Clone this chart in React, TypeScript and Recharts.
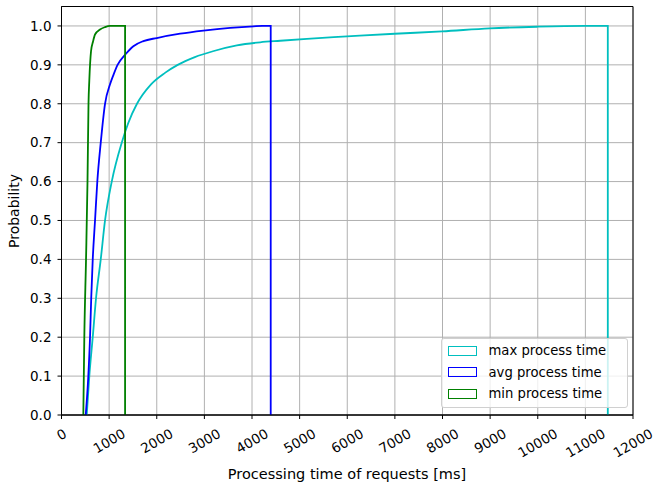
import { LineChart, Line, XAxis, YAxis, CartesianGrid, ReferenceArea, Label } from "recharts";

// cumulative request-time distributions (step outline, closing drop at the last bin edge)
const maxTimes = [530, 584, 656, 725, 824, 914, 1055, 1265, 1400, 1585, 1880, 2180, 2440, 2800, 3180, 3682, 4172, 4592, 5153, 5994, 6995, 7991, 8991, 9987, 10982, 11471, 11471];
const maxProb = [0, 0.1, 0.2, 0.3, 0.4, 0.5, 0.6, 0.7, 0.75, 0.8, 0.85, 0.88, 0.9, 0.92, 0.935, 0.95, 0.958, 0.962, 0.967, 0.973, 0.98, 0.986, 0.994, 0.998, 1.0, 1.0, 0];

const avgTimes = [509, 563, 599, 624, 656, 704, 752, 824, 914, 1019, 1093, 1177, 1335, 1509, 1719, 2001, 2491, 2980, 3541, 4031, 4214, 4393, 4393];
const avgProb = [0, 0.1, 0.2, 0.3, 0.4, 0.5, 0.6, 0.7, 0.8, 0.85, 0.875, 0.9, 0.926, 0.948, 0.961, 0.969, 0.98, 0.988, 0.995, 0.999, 1.0, 1.0, 0];

const minTimes = [458, 479, 515, 546, 567, 584, 620, 662, 704, 809, 914, 1019, 1335, 1335];
const minProb = [0, 0.2, 0.4, 0.6, 0.8, 0.86, 0.935, 0.96, 0.978, 0.991, 0.997, 1.0, 1.0, 0];

const xTicks = [0, 1000, 2000, 3000, 4000, 5000, 6000, 7000, 8000, 9000, 10000, 11000, 12000];
const yTicks = [0, 0.1, 0.2, 0.3, 0.4, 0.5, 0.6, 0.7, 0.8, 0.9, 1.0];

const seriesNames = ["max process time", "avg process time", "min process time"];
const seriesColors = ["#00bfbf", "#0000ff", "#008000"];

const toPoints = (times: number[], probs: number[]) =>
  times.map((t, i) => ({ t, p: probs[i] }));

const series = [
  toPoints(maxTimes, maxProb),
  toPoints(avgTimes, avgProb),
  toPoints(minTimes, minProb),
];

const FONT = "DejaVu Sans, sans-serif";
const FS = 13.5;

// rotated tick label, bounding box centred under the tick
const XTick = (props: any) => {
  const { x, y, payload } = props;
  const label = String(payload.value);
  const w = label.length * 0.636 * FS;
  const cy = y + (w * 0.5 + 0.73 * FS * 0.866) / 2;
  return (
    <text
      x={x}
      y={cy + 0.365 * FS}
      textAnchor="middle"
      transform={`rotate(-30 ${x} ${cy})`}
      fontSize={FS}
      fontFamily={FONT}
      fill="#000"
    >
      {label}
    </text>
  );
};

const Legendbox = () => (
  <div
    style={{
      position: "absolute",
      left: 440.5,
      top: 338,
      width: 185,
      height: 68,
      border: "1px solid #d0d0d0",
      borderRadius: 3,
      background: "rgba(255,255,255,0.8)",
      fontFamily: FONT,
      fontSize: 13.2,
    }}
  >
    {seriesNames.map((name, i) => (
      <div
        key={name}
        style={{
          position: "absolute",
          left: 0,
          top: 11.5 + i * 21.5 - 9,
          height: 18,
          display: "flex",
          alignItems: "center",
          whiteSpace: "nowrap",
        }}
      >
        <div
          style={{
            marginLeft: 6,
            width: 27,
            height: 8,
            border: `1.5px solid ${seriesColors[i]}`,
          }}
        />
        <span style={{ marginLeft: 12 }}>{name}</span>
      </div>
    ))}
  </div>
);

export default function App() {
  return (
    <div style={{ position: "absolute", left: 0, top: 0, width: 656, height: 488, background: "#fff" }}>
      <LineChart
        width={656}
        height={488}
        margin={{ top: 6.5, right: 23, bottom: 0, left: 0 }}
      >
        <CartesianGrid stroke="#b0b0b0" strokeWidth={1} />
        <XAxis
          dataKey="t"
          type="number"
          domain={[0, 12000]}
          ticks={xTicks}
          interval={0}
          height={73}
          tickSize={4}
          tickMargin={9}
          tick={<XTick />}
          axisLine={{ stroke: "#000" }}
          tickLine={{ stroke: "#000" }}
        >
          <Label
            content={() => (
              <text x={347} y={479} textAnchor="middle" fontSize={14.5} fontFamily={FONT} fill="#000">
                Processing time of requests [ms]
              </text>
            )}
          />
        </XAxis>
        <YAxis
          dataKey="p"
          type="number"
          domain={[0, 1.05]}
          ticks={yTicks}
          interval={0}
          width={61.5}
          tickSize={4}
          tickMargin={6}
          tickFormatter={(v: number) => v.toFixed(1)}
          tick={{ fontSize: FS, fontFamily: FONT, fill: "#000" }}
          axisLine={{ stroke: "#000" }}
          tickLine={{ stroke: "#000" }}
        >
          <Label
            content={() => (
              <text
                x={14}
                y={211}
                textAnchor="middle"
                dominantBaseline="central"
                transform="rotate(-90 14 211)"
                fontSize={14}
                fontFamily={FONT}
                fill="#000"
              >
                Probability
              </text>
            )}
          />
        </YAxis>
        <ReferenceArea x1={0} x2={12000} y1={0} y2={1.05} fill="none" stroke="#000" strokeWidth={1} ifOverflow="visible" />
        {series.map((pts, i) => (
          <Line
            key={seriesNames[i]}
            data={pts}
            dataKey="p"
            name={seriesNames[i]}
            type="monotoneX"
            stroke={seriesColors[i]}
            strokeWidth={1.8}
            dot={false}
            activeDot={false}
            isAnimationActive={false}
          />
        ))}
      </LineChart>
      <Legendbox />
    </div>
  );
}
